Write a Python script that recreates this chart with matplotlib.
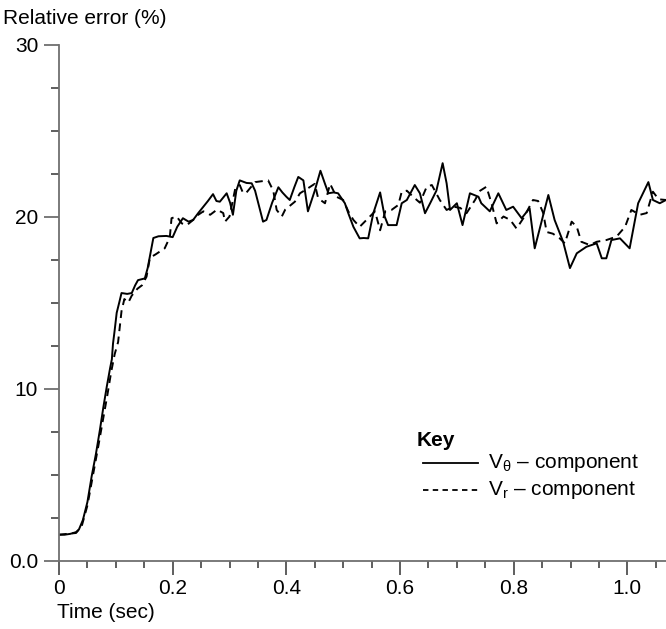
import matplotlib
matplotlib.use("Agg")
import matplotlib.pyplot as plt
from matplotlib.lines import Line2D
from matplotlib.ticker import MultipleLocator, FixedLocator

plt.rcParams['font.family'] = ['Liberation Sans', 'DejaVu Sans']
plt.rcParams['mathtext.fontset'] = 'custom'
plt.rcParams['mathtext.rm'] = 'Liberation Sans'
plt.rcParams['mathtext.it'] = 'Liberation Sans:italic'

# ---- data ----
time_vtheta = [0.0, 0.01, 0.02, 0.03, 0.035, 0.042, 0.05, 0.0575, 0.065, 0.072, 0.078, 0.084, 0.09, 0.093,
               0.095, 0.098, 0.1015, 0.106, 0.11, 0.12, 0.128, 0.134, 0.139, 0.151, 0.156, 0.16, 0.166, 0.175,
               0.189, 0.2, 0.208, 0.218, 0.228, 0.236, 0.245, 0.254, 0.262, 0.271, 0.277, 0.283, 0.295, 0.301,
               0.306, 0.312, 0.318, 0.33, 0.339, 0.345, 0.352, 0.359, 0.365, 0.375, 0.386, 0.393, 0.4, 0.406,
               0.414, 0.421, 0.43, 0.434, 0.438, 0.445, 0.45, 0.46, 0.468, 0.474, 0.483, 0.491, 0.503, 0.509,
               0.518, 0.529, 0.536, 0.544, 0.553, 0.565, 0.573, 0.579, 0.587, 0.594, 0.603, 0.612, 0.626, 0.635,
               0.644, 0.653, 0.664, 0.675, 0.682, 0.688, 0.7, 0.71, 0.723, 0.738, 0.743, 0.758, 0.773, 0.787,
               0.799, 0.814, 0.828, 0.837, 0.849, 0.861, 0.872, 0.887, 0.899, 0.911, 0.928, 0.946, 0.955, 0.963,
               0.972, 0.987, 1.004, 1.019, 1.037, 1.045, 1.057, 1.068]
err_vtheta = [1.5, 1.5, 1.55, 1.65, 1.8, 2.35, 3.4, 4.9, 6.2, 7.6, 8.9, 10.1, 11.2, 11.7,
              12.6, 13.4, 14.4, 15.0, 15.55, 15.5, 15.55, 16.0, 16.3, 16.4, 17.0, 17.7, 18.75, 18.85,
              18.87, 18.8, 19.4, 19.9, 19.7, 19.8, 20.2, 20.57, 20.9, 21.3, 20.9, 20.86, 21.35, 20.8,
              20.1, 21.5, 22.1, 21.95, 21.93, 21.5, 20.6, 19.7, 19.8, 20.8, 21.7, 21.4, 21.15, 20.96,
              21.7, 22.3, 22.1, 21.2, 20.3, 21.0, 21.5, 22.66, 21.9, 21.35, 21.4, 21.35, 20.77, 20.19,
              19.4, 18.73, 18.75, 18.73, 20.19, 21.4, 20.0, 19.5, 19.5, 19.5, 20.77, 20.96, 21.83, 21.35,
              20.19, 20.77, 21.5, 23.1, 21.93, 20.38, 20.77, 19.5, 21.35, 21.15, 20.77, 20.3, 21.35, 20.38,
              20.57, 19.9, 20.48, 18.15, 19.7, 21.25, 19.8, 18.53, 17.0, 17.86, 18.24, 18.44, 17.57, 17.57,
              18.63, 18.73, 18.15, 20.77, 22.0, 20.96, 20.77, 20.96]

time_vr = [0.0, 0.03, 0.04, 0.05, 0.06, 0.07, 0.078, 0.085, 0.092, 0.098, 0.104, 0.11, 0.115, 0.122,
           0.128, 0.138, 0.146, 0.154, 0.16, 0.17, 0.186, 0.195, 0.198, 0.207, 0.216, 0.225, 0.236, 0.245,
           0.254, 0.266, 0.278, 0.289, 0.292, 0.3, 0.31, 0.318, 0.324, 0.33, 0.345, 0.368, 0.377, 0.383,
           0.392, 0.398, 0.415, 0.424, 0.438, 0.45, 0.456, 0.468, 0.477, 0.488, 0.5, 0.509, 0.518, 0.529,
           0.541, 0.556, 0.565, 0.574, 0.585, 0.597, 0.603, 0.612, 0.623, 0.635, 0.647, 0.656, 0.67, 0.682,
           0.694, 0.706, 0.717, 0.732, 0.741, 0.752, 0.761, 0.77, 0.782, 0.794, 0.805, 0.817, 0.825, 0.834,
           0.843, 0.852, 0.858, 0.869, 0.881, 0.89, 0.902, 0.911, 0.919, 0.934, 0.946, 0.963, 0.981, 0.996,
           1.007, 1.022, 1.034, 1.045, 1.055, 1.068]
err_vr = [1.5, 1.6, 2.0, 3.2, 5.0, 6.8, 8.3, 9.6, 11.0, 12.0, 12.7, 14.5, 15.2, 15.0,
          15.4, 15.8, 16.0, 16.5, 17.6, 17.8, 18.15, 18.8, 19.9, 20.0, 19.6, 19.5, 19.8, 20.1,
          20.3, 20.1, 20.4, 20.2, 19.7, 20.0, 21.6, 21.83, 21.35, 21.4, 22.0, 22.1, 21.5, 20.38,
          20.0, 20.4, 20.86, 21.35, 21.64, 21.9, 21.06, 20.77, 21.9, 21.15, 20.96, 20.3, 19.8, 19.4,
          19.8, 20.3, 19.2, 20.3, 20.38, 20.67, 21.44, 21.5, 21.15, 20.8, 21.73, 21.83, 20.96, 20.38,
          20.57, 20.5, 20.19, 20.96, 21.5, 21.73, 20.77, 19.6, 20.0, 19.8, 19.3, 19.9, 20.4, 20.96,
          20.9, 20.2, 19.1, 19.0, 18.73, 18.44, 19.7, 19.4, 18.53, 18.34, 18.53, 18.63, 18.83, 19.4,
          20.38, 20.1, 20.2, 21.44, 21.0, 20.96]

x_major_ticks = [0, 0.2, 0.4, 0.6, 0.8, 1.0]
x_tick_labels = ["0", "0.2", "0.4", "0.6", "0.8", "1.0"]
y_major_ticks = [0, 10, 20, 30]
y_tick_labels = ["0.0", "10", "20", "30"]
legend_labels = ["V$_{\\mathrm{θ}}$ – component", "V$_{\\mathrm{r}}$ – component"]

# ---- figure ----
fig = plt.figure(figsize=(6.66, 6.29), dpi=100)
ax = fig.add_axes([59 / 666, (629 - 560.5) / 629, 1 - 59 / 666, (560.5 - 44.5) / 629])

dash = (0, (4.0, 2.8))
ax.plot(time_vtheta, err_vtheta, color='black', lw=1.4, solid_joinstyle='round')
ax.plot(time_vr, err_vr, color='black', lw=1.4, linestyle=dash)

ax.set_xlim(0, 1.068)
ax.set_ylim(0, 30)

for s in ['top', 'right']:
    ax.spines[s].set_visible(False)
for s in ['left', 'bottom']:
    ax.spines[s].set_color('#707070')
    ax.spines[s].set_linewidth(1.3)

ax.xaxis.set_major_locator(FixedLocator(x_major_ticks))
ax.set_xticklabels(x_tick_labels)
ax.xaxis.set_minor_locator(MultipleLocator(0.05))
ax.yaxis.set_major_locator(FixedLocator(y_major_ticks))
ax.set_yticklabels(y_tick_labels)
ax.yaxis.set_minor_locator(MultipleLocator(2.5))

ax.tick_params(axis='x', which='major', length=10, width=1.1, color='#333333', pad=3, labelsize=15)
ax.tick_params(axis='x', which='minor', length=5, width=1.1, color='#333333')
ax.tick_params(axis='y', which='major', length=11, width=1.1, color='#555555', pad=4, labelsize=15)
ax.tick_params(axis='y', which='minor', length=6, width=1.1, color='#333333')

# extra long ticks at the odd tenths
for xv in [0.1, 0.3, 0.5, 0.7, 0.9]:
    pass

fig.text(3 / 666, 1 - 18 / 629, "Relative error (%)", fontsize=15, ha='left', va='center')
fig.text(57 / 666, 1 - 612 / 629, "Time (sec)", fontsize=15, ha='left', va='center')

# legend ("Key")
fig.text(417 / 666, 1 - 440 / 629, "Key", fontsize=15, fontweight='bold', ha='left', va='center')
fig.add_artist(Line2D([423 / 666, 478 / 666], [1 - 463 / 629, 1 - 463 / 629],
                      transform=fig.transFigure, color='black', lw=1.3))
fig.add_artist(Line2D([423 / 666, 478 / 666], [1 - 490 / 629, 1 - 490 / 629],
                      transform=fig.transFigure, color='black', lw=1.3, linestyle=(0, (3.0, 2.4))))
fig.text(488 / 666, 1 - 463 / 629, legend_labels[0], fontsize=15, ha='left', va='center')
fig.text(488 / 666, 1 - 490 / 629, legend_labels[1], fontsize=15, ha='left', va='center')

fig.savefig("out.png", dpi=100)
